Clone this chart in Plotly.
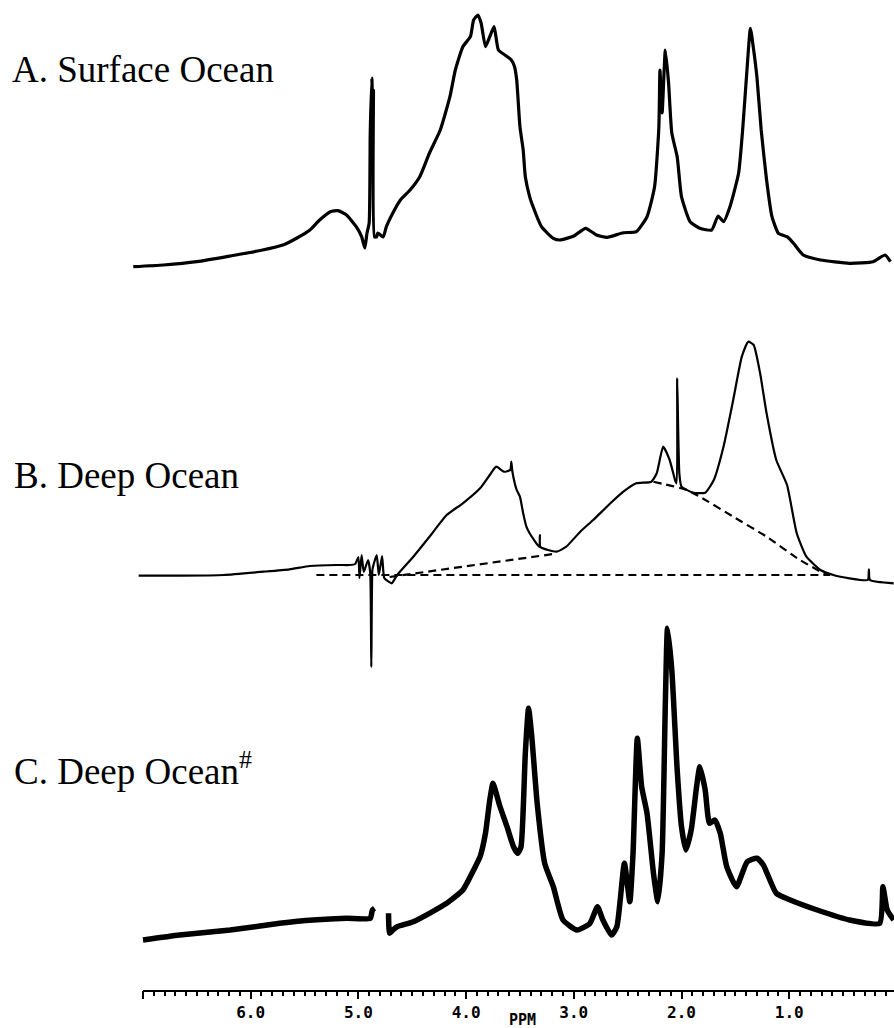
import plotly.graph_objects as go

# 1H NMR spectra of dissolved organic matter, chemical shift in ppm
# Intensities are in arbitrary units above each trace's own zero line.

# A. Surface Ocean
ppm_a = [7.09, 6.81, 6.50, 6.19, 5.89, 5.70, 5.57, 5.45, 5.36, 5.26, 5.19, 5.11, 5.02, 4.97,
         4.94, 4.92, 4.90, 4.89, 4.875, 4.865, 4.86, 4.85, 4.83, 4.82, 4.77, 4.74, 4.68, 4.61,
         4.52, 4.43, 4.34, 4.24, 4.15, 4.10, 4.03, 3.96, 3.93, 3.89, 3.86, 3.82, 3.78, 3.74,
         3.70, 3.64, 3.58, 3.55, 3.53, 3.50, 3.47, 3.45, 3.41, 3.39, 3.30, 3.19, 3.13, 3.00,
         2.89, 2.79, 2.69, 2.54, 2.42, 2.32, 2.25, 2.21, 2.20, 2.18, 2.15, 2.12, 2.09, 2.04,
         2.00, 1.92, 1.83, 1.72, 1.66, 1.61, 1.55, 1.47, 1.43, 1.39, 1.36, 1.33, 1.30, 1.26,
         1.21, 1.16, 1.10, 1.02, 0.96, 0.87, 0.71, 0.44, 0.22, 0.11, 0.06]
int_a = [3.3, 5, 8.3, 14, 20, 25, 32, 40, 50, 58.3, 59.3, 55, 43.3, 33.3,
         22, 37, 47, 137, 192, 150, 180, 33, 33.3, 37, 33, 43.3, 57, 70,
         80, 93.3, 117, 140, 173.3, 200, 223.3, 233.3, 250, 255, 246.7, 223.3, 233.3, 243.3,
         220, 215, 210, 203.3, 190, 143.3, 120, 93.3, 73.3, 66.7, 43.3, 31.7, 30, 34,
         41.7, 35, 32.7, 37.3, 38.3, 53.3, 83.3, 143.3, 200, 157, 220, 187, 137, 113.3,
         73.3, 48.3, 41.7, 40, 54, 48.3, 63.3, 96.7, 143.3, 203.3, 241.7, 220, 193.3, 140,
         90, 53.3, 36.7, 33.3, 26.7, 15, 10, 6.7, 8.3, 15, 8.3]

# B. Deep Ocean
ppm_b = [7.04, 6.66, 6.25, 5.88, 5.64, 5.45, 5.20, 5.08, 5.03, 5.00, 4.99, 4.97, 4.95, 4.91,
         4.89, 4.88, 4.87, 4.86, 4.83, 4.81, 4.78, 4.76, 4.72, 4.69, 4.64, 4.49, 4.34, 4.18,
         4.03, 3.87, 3.78, 3.72, 3.65, 3.59, 3.58, 3.57, 3.53, 3.50, 3.47, 3.44, 3.41, 3.32,
         3.315, 3.31, 3.16, 3.07, 2.94, 2.82, 2.66, 2.54, 2.42, 2.28, 2.23, 2.17, 2.11, 2.06,
         2.045, 2.04, 2.02, 2.00, 1.89, 1.78, 1.70, 1.61, 1.52, 1.44, 1.38, 1.33, 1.27, 1.21,
         1.12, 1.02, 0.93, 0.84, 0.71, 0.59, 0.44, 0.27, 0.26, 0.25, 0.03]
int_b = [9.3, 9.3, 10, 13.3, 15.7, 19, 20, 20, 21, 28, 7, 30, 13, 25,
         12, -82, 15, 20, 30, 10, 29, 7, 3.3, 1.7, 10, 28.3, 48.3, 70,
         81.7, 96.7, 110, 118.3, 113.3, 115, 123.3, 113.3, 95, 88.3, 71.7, 58.3, 51.7, 38,
         50, 38, 33.3, 38.3, 53.3, 65, 81.7, 93.3, 101.7, 103.3, 111.7, 138.3, 125, 105,
         101.7, 206.7, 111.7, 98.3, 92.3, 92.3, 105, 138.3, 185, 228.3, 243.3, 240, 211.7, 171.7,
         125, 100, 51.7, 28.3, 15, 10, 6.7, 5, 15.7, 5, 1.7]

# B. integration baselines (dashed)
ppm_b_base = [5.39, 0.62]
int_b_base = [10, 10]
ppm_b_slope = [4.71, 3.19]
int_b_slope = [8, 31]
ppm_b_hump = [2.26, 1.95, 1.83, 1.52, 1.21, 0.90, 0.65]
int_b_hump = [103.3, 95, 88.3, 68.3, 48.3, 25, 10]

# C. Deep Ocean# (gap around the suppressed water signal)
ppm_c = [7.00, 6.66, 6.19, 5.73, 5.42, 5.11, 4.89, 4.87, 4.85, None,
         4.72, 4.71, 4.68, 4.64, 4.49, 4.34, 4.18, 4.03, 3.93, 3.87, 3.82, 3.78, 3.75, 3.69,
         3.62, 3.56, 3.52, 3.49, 3.45, 3.42, 3.39, 3.34, 3.27, 3.19, 3.10, 2.97, 2.85, 2.78,
         2.73, 2.65, 2.60, 2.53, 2.48, 2.45, 2.41, 2.37, 2.32, 2.26, 2.22, 2.18, 2.15, 2.13,
         2.09, 2.04, 2.00, 1.96, 1.91, 1.86, 1.83, 1.78, 1.74, 1.69, 1.64, 1.58, 1.49, 1.39,
         1.30, 1.24, 1.12, 0.99, 0.74, 0.44, 0.16, 0.13, 0.09, 0.03]
int_c = [5, 10, 15, 21.7, 25, 26.7, 26.7, 35, 36.7, None,
         31.7, 11.7, 15, 18.3, 23.3, 31.7, 41.7, 55, 75, 88.3, 111.7, 145, 161.7, 140,
         118.3, 98.3, 91.7, 98.3, 191.7, 236.7, 208.3, 141.7, 81.7, 58.3, 25, 15, 21.7, 38.3,
         25, 10, 18.3, 81.7, 43.3, 91.7, 206.7, 158.3, 131.7, 71.7, 43.3, 91.7, 241.7, 316.7,
         275, 175, 118.3, 95, 115, 158.3, 178.3, 155, 121.7, 125, 111.7, 78.3, 58.3, 83.3,
         86.7, 80, 51.7, 45, 35, 25, 21.7, 58.3, 35, 25]

labels = ["A. Surface Ocean", "B. Deep Ocean", "C. Deep Ocean<sup>#</sup>"]
tick_ppm = [1, 2, 3, 4, 5, 6]
tick_text = ["1.0", "2.0", "3.0", "4.0", "5.0", "6.0"]

# vertical stacking of the three traces (plot height 991 units)
H = 991
base_a, base_b, base_c = H - 270, H - 585, H - 945

def shift(vals, base):
    return [None if v is None else v + base for v in vals]

fig = go.Figure()
fig.add_trace(go.Scatter(x=ppm_a, y=shift(int_a, base_a), mode="lines",
                         line=dict(color="black", width=3.2, shape="spline", smoothing=0.5)))
fig.add_trace(go.Scatter(x=ppm_b, y=shift(int_b, base_b), mode="lines",
                         line=dict(color="black", width=2.2, shape="spline", smoothing=0.5)))
for px, iy in [(ppm_b_base, int_b_base), (ppm_b_slope, int_b_slope), (ppm_b_hump, int_b_hump)]:
    fig.add_trace(go.Scatter(x=px, y=shift(iy, base_b), mode="lines",
                             line=dict(color="black", width=2.2, dash="8px,5px",
                                       shape="spline", smoothing=0.6)))
fig.add_trace(go.Scatter(x=ppm_c, y=shift(int_c, base_c), mode="lines",
                         line=dict(color="black", width=5.5, shape="spline", smoothing=0.5),
                         connectgaps=False))

L, W = 128, 894
pw = W - L
label_pos = [(10, 69), (12, 475), (12, 768)]
for text, (px, py) in zip(labels, label_pos):
    fig.add_annotation(text=text, xref="paper", yref="y", x=(px - L) / pw, y=H - py,
                       xanchor="left", yanchor="middle", showarrow=False,
                       font=dict(family="Liberation Serif", size=37, color="black"))

fig.add_annotation(text="PPM", xref="x", yref="paper", x=3.48, y=-29 / H,
                   xanchor="center", yanchor="middle", showarrow=False,
                   font=dict(family="DejaVu Sans Mono", size=15, color="black", weight="bold"))

# axis line from 7.0 ppm to the right edge, with its end tick
fig.add_shape(type="line", xref="x", yref="paper", x0=7.0, x1=0.0, y0=0, y1=0,
              line=dict(color="black", width=2))
fig.add_shape(type="line", xref="x", yref="paper", x0=7.0, x1=7.0, y0=0, y1=-8 / H,
              line=dict(color="black", width=2))

minor_vals = [round(0.1 * k, 1) for k in range(1, 71) if k % 10 != 0]
fig.update_layout(
    width=W, height=1028, margin=dict(l=L, r=0, t=0, b=1028 - H),
    paper_bgcolor="white", plot_bgcolor="white", showlegend=False,
    xaxis=dict(range=[7.139, 0.027], showgrid=False, zeroline=False, showline=False,
               tickmode="array", tickvals=tick_ppm, ticktext=tick_text,
               ticks="outside", ticklen=7, tickwidth=2, tickcolor="black",
               tickfont=dict(family="DejaVu Sans Mono", size=16, color="black", weight="bold"),
               minor=dict(tickmode="array", tickvals=minor_vals, ticks="outside",
                          ticklen=4, tickwidth=1.5, tickcolor="black", showgrid=False)),
    yaxis=dict(range=[0, H], visible=False, fixedrange=True),
)

fig.write_html("out.html")
